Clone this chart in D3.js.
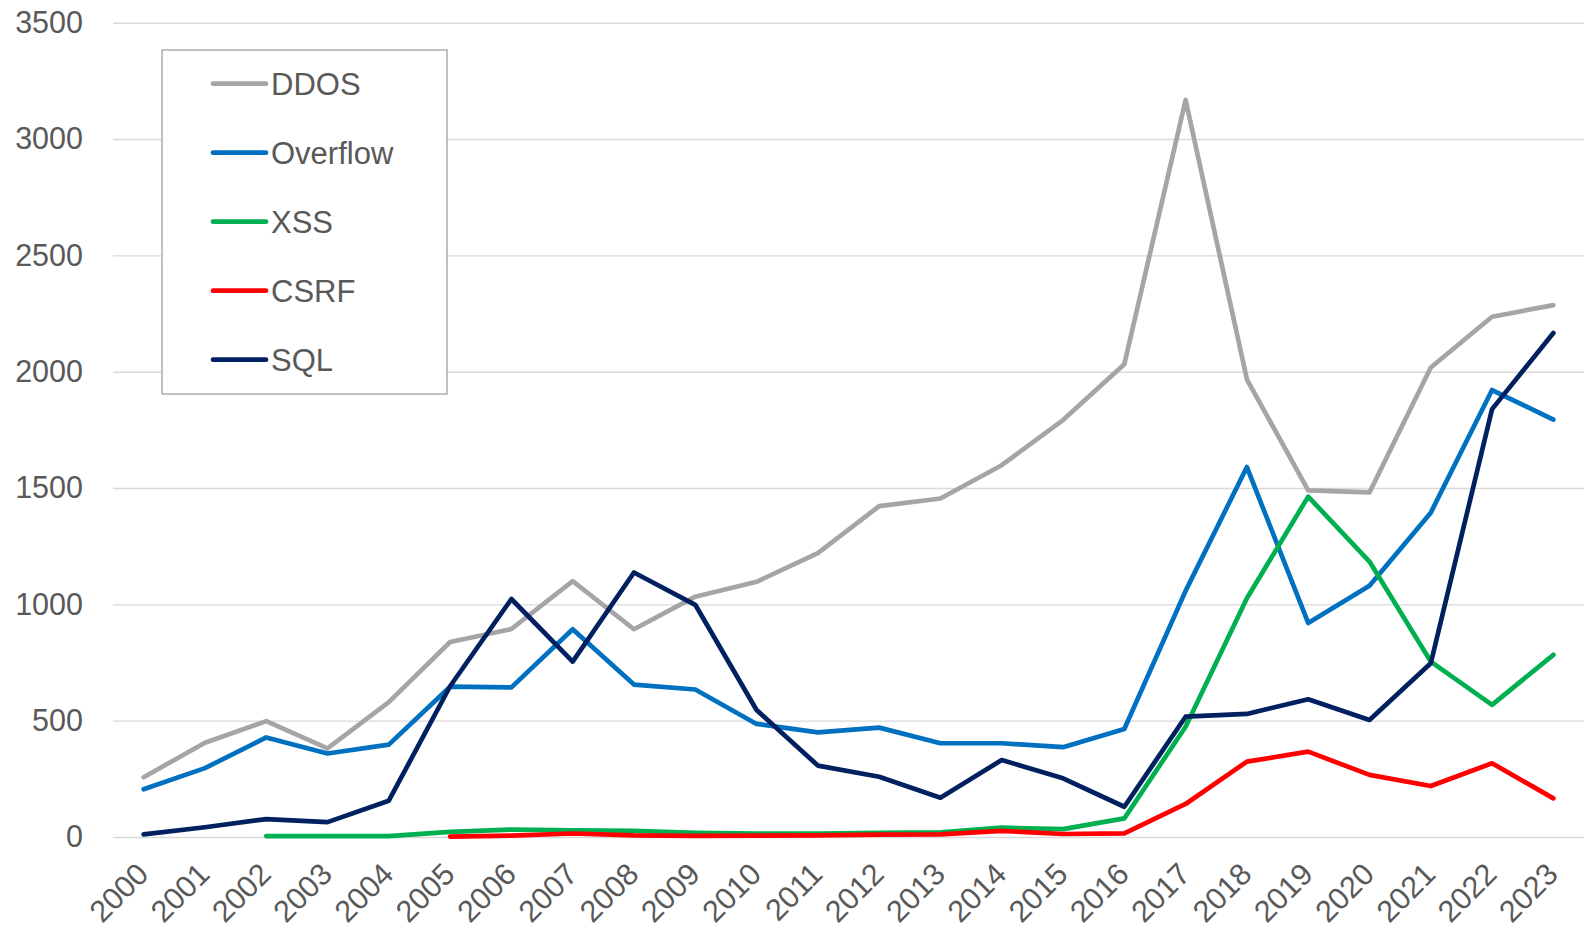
<!DOCTYPE html>
<html>
<head>
<meta charset="utf-8">
<script src="https://cdn.jsdelivr.net/npm/d3@7"></script>
<style>
  body { margin: 0; background: #fff; }
  svg { display: block; font-family: "Liberation Sans", Arial, sans-serif; }
</style>
</head>
<body>
<svg id="chart" width="1584" height="929"></svg>
<script>
// data
const years = d3.range(2000, 2024);
const ddos = [257, 405, 498, 381, 580, 838, 894, 1100, 893, 1033, 1097, 1220, 1422, 1455, 1598, 1792, 2032, 3168, 1967, 1490, 1481, 2018, 2236, 2286];
const overflow = [205, 296, 428, 359, 397, 646, 643, 893, 655, 634, 486, 450, 470, 403, 403, 386, 464, 1058, 1590, 920, 1080, 1394, 1921, 1794];
const xss = [null, null, 4, 4, 4, 22, 32, 29, 26, 18, 15, 15, 18, 20, 40, 34, 80, 474, 1026, 1463, 1184, 754, 568, 783];
const csrf = [null, null, null, null, null, 2, 6, 15, 7, 5, 6, 7, 10, 11, 26, 13, 16, 142, 324, 367, 267, 219, 317, 166];
const sql = [11, 42, 77, 64, 156, 648, 1023, 754, 1137, 998, 546, 307, 259, 169, 331, 252, 130, 517, 529, 592, 503, 747, 1839, 2166];
const yTicks = [0, 500, 1000, 1500, 2000, 2500, 3000, 3500];

const series = [
  { name: 'DDOS', values: ddos, color: '#a5a5a5' },
  { name: 'Overflow', values: overflow, color: '#0070c0' },
  { name: 'XSS', values: xss, color: '#00b050' },
  { name: 'CSRF', values: csrf, color: '#ff0000' },
  { name: 'SQL', values: sql, color: '#002060' },
];

const plot = { left: 113, right: 1584, top: 22.7, bottom: 837 };
const textColor = '#595959';
const lineWidth = 4.7;

const svg = d3.select('#chart');

const x = d3.scalePoint().domain(years).range([plot.left, plot.right]).padding(0.5);
const y = d3.scaleLinear().domain([0, 3500]).range([plot.bottom, plot.top]);

// y axis + gridlines
const yAxis = svg.append('g')
  .attr('transform', `translate(${plot.left},0)`)
  .call(d3.axisLeft(y).tickValues(yTicks).tickFormat(d3.format('d'))
    .tickSize(-(plot.right - plot.left)).tickPadding(30));
yAxis.select('.domain').remove();
yAxis.selectAll('line').attr('stroke', '#d9d9d9').attr('stroke-width', 1.4);
yAxis.selectAll('text')
  .attr('fill', textColor)
  .style('font-size', '30.5px')
  .style('font-family', '"Liberation Sans", Arial, sans-serif');

// x axis labels, rotated
const xAxis = svg.append('g')
  .attr('transform', `translate(0,${plot.bottom})`)
  .call(d3.axisBottom(x).tickSize(0).tickPadding(0));
xAxis.select('.domain').remove();
xAxis.selectAll('.tick text')
  .attr('fill', textColor)
  .style('font-size', '30.5px')
  .style('font-family', '"Liberation Sans", Arial, sans-serif')
  .attr('text-anchor', 'end')
  .attr('dy', 0)
  .attr('y', 0)
  .attr('transform', 'translate(6,39) rotate(-45)');

// lines
const line = d3.line()
  .defined((d) => d != null)
  .x((d, i) => x(years[i]))
  .y((d) => y(d));

svg.append('g')
  .selectAll('path')
  .data(series)
  .join('path')
  .attr('d', (d) => line(d.values))
  .attr('fill', 'none')
  .attr('stroke', (d) => d.color)
  .attr('stroke-width', lineWidth)
  .attr('stroke-linejoin', 'round')
  .attr('stroke-linecap', 'round');

// legend
const legend = svg.append('g');
legend.append('rect')
  .attr('x', 162).attr('y', 50)
  .attr('width', 285).attr('height', 344)
  .attr('fill', '#fff')
  .attr('stroke', '#a6a6a6')
  .attr('stroke-width', 1.4);

const rows = legend.selectAll('g.row')
  .data(series)
  .join('g')
  .attr('class', 'row')
  .attr('transform', (d, i) => `translate(0,${83.7 + i * 69})`);

rows.append('line')
  .attr('x1', 213).attr('x2', 266)
  .attr('stroke', (d) => d.color)
  .attr('stroke-width', lineWidth)
  .attr('stroke-linecap', 'round');

rows.append('text')
  .attr('x', 271)
  .attr('dy', '0.36em')
  .attr('fill', textColor)
  .style('font-size', '31px')
  .text((d) => d.name);
</script>
</body>
</html>
